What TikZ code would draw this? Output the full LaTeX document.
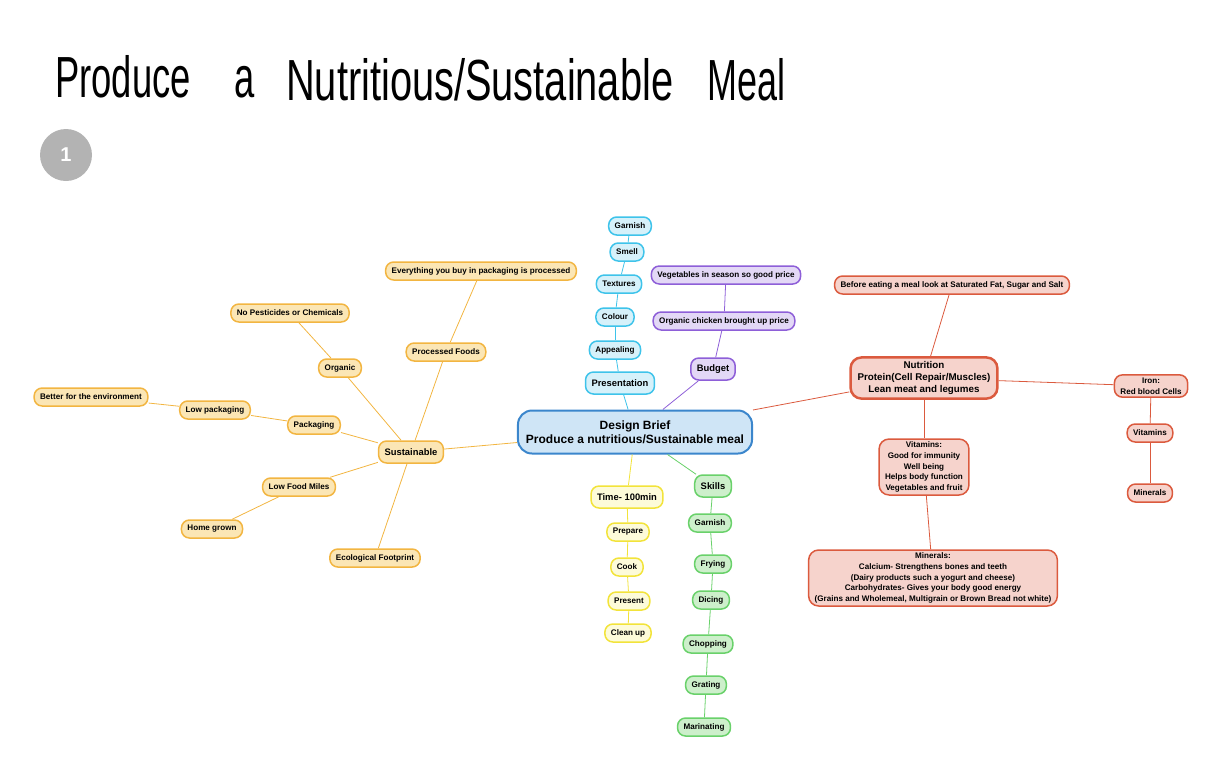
\documentclass[tikz,border=0pt]{standalone}
\usepackage{fontspec}
\setmainfont{Liberation Sans}
\usetikzlibrary{positioning}

\definecolor{orangeline}{HTML}{F2B541}
\definecolor{orangefill}{HTML}{FBE6B5}
\definecolor{cyanline}{HTML}{3EC3EA}
\definecolor{cyanfill}{HTML}{D6F1FA}
\definecolor{purpleline}{HTML}{8E5FD8}
\definecolor{purplefill}{HTML}{E3D8F6}
\definecolor{yellowline}{HTML}{F2E33A}
\definecolor{yellowfill}{HTML}{FDFBD9}
\definecolor{greenline}{HTML}{69D16A}
\definecolor{greenfill}{HTML}{CDEFCB}
\definecolor{redline}{HTML}{DB5A3E}
\definecolor{redfill}{HTML}{F6D3CC}
\definecolor{briefline}{HTML}{3B86CC}
\definecolor{brieffill}{HTML}{CFE5F6}
\definecolor{badge}{HTML}{B3B3B3}

\tikzset{
  idea/.style={rectangle, rounded corners=8pt, draw, line width=1.5pt, align=center,
    font=\bfseries\fontsize{8.1}{10.6}\selectfont, inner xsep=6pt, inner ysep=3pt, minimum height=18pt},
  topic/.style={idea, font=\bfseries\fontsize{9.4}{11}\selectfont, minimum height=22pt},
  orangebox/.style={idea, draw=orangeline, fill=orangefill},
  cyanbox/.style={idea, draw=cyanline, fill=cyanfill},
  purplebox/.style={idea, draw=purpleline, fill=purplefill},
  yellowbox/.style={idea, draw=yellowline, fill=yellowfill},
  greenbox/.style={idea, draw=greenline, fill=greenfill},
  redbox/.style={idea, draw=redline, fill=redfill},
  titletext/.style={anchor=base west, inner sep=0pt, font=\fontsize{58}{66}\selectfont},
}

\begin{document}
\begin{tikzpicture}[x=1pt, y=-1pt]
    \useasboundingbox (0,0) rectangle (1230,766);

    % heading
    \node[titletext] (t1) at (55,97) {\scalebox{0.627}[1]{Produce}};
    \node[titletext] (t2) at (234,97) {\scalebox{0.627}[1]{a}};
    \node[titletext] (t3) at (286,100) {\scalebox{0.686}[1]{Nutritious/Sustainable}};
    \node[titletext] (t4) at (707,100) {\scalebox{0.62}[1]{Meal}};
    \node[circle, fill=badge, minimum size=52pt, inner sep=0pt, text=white,
          font=\bfseries\fontsize{20}{20}\selectfont] (num) at (66,155) {1};

    % centre
    \node[idea, draw=briefline, fill=brieffill, line width=2pt, rounded corners=14pt,
          font=\bfseries\fontsize{12}{14}\selectfont, minimum height=43pt, inner xsep=8pt]
          (brief) at (635,432) {Design Brief\\Produce a nutritious/Sustainable meal};

    % presentation branch
    \node[cyanbox, topic] (pres) at (620,383) {Presentation};
    \node[cyanbox] (appeal) at (615,350) {Appealing};
    \node[cyanbox] (colour) at (615,317) {Colour};
    \node[cyanbox] (texture) at (619,284) {Textures};
    \node[cyanbox] (smell) at (627,252) {Smell};
    \node[cyanbox] (garnishp) at (630,226) {Garnish};
    \draw[cyanline, thick] (brief) -- (pres);
    \draw[cyanline, thick] (pres) -- (appeal);
    \draw[cyanline, thick] (appeal) -- (colour);
    \draw[cyanline, thick] (colour) -- (texture);
    \draw[cyanline, thick] (texture) -- (smell);
    \draw[cyanline, thick] (smell) -- (garnishp);

    % budget branch
    \node[purplebox, topic] (budget) at (713,369) {Budget};
    \node[purplebox] (chicken) at (724,321) {Organic chicken brought up price};
    \node[purplebox] (veg) at (726,275) {Vegetables in season so good price};
    \draw[purpleline, thick] (brief) -- (budget);
    \draw[purpleline, thick] (budget) -- (chicken);
    \draw[purpleline, thick] (chicken) -- (veg);

    % sustainable branch
    \node[orangebox, topic] (sust) at (411,452) {Sustainable};
    \node[orangebox] (processed) at (446,352) {Processed Foods};
    \node[orangebox] (everything) at (481,271) {Everything you buy in packaging is processed};
    \node[orangebox] (organic) at (340,368) {Organic};
    \node[orangebox] (pesticides) at (290,313) {No Pesticides or Chemicals};
    \node[orangebox] (packaging) at (314,425) {Packaging};
    \node[orangebox] (lowpack) at (215,410) {Low packaging};
    \node[orangebox] (better) at (91,397) {Better for the environment};
    \node[orangebox] (miles) at (299,487) {Low Food Miles};
    \node[orangebox] (home) at (212,529) {Home grown};
    \node[orangebox] (eco) at (375,558) {Ecological Footprint};
    \draw[orangeline, thick] (brief) -- (sust);
    \draw[orangeline, thick] (sust) -- (processed);
    \draw[orangeline, thick] (processed) -- (everything);
    \draw[orangeline, thick] (sust) -- (organic);
    \draw[orangeline, thick] (organic) -- (pesticides);
    \draw[orangeline, thick] (sust) -- (packaging);
    \draw[orangeline, thick] (packaging) -- (lowpack);
    \draw[orangeline, thick] (lowpack) -- (better);
    \draw[orangeline, thick] (sust) -- (miles);
    \draw[orangeline, thick] (miles) -- (home);
    \draw[orangeline, thick] (sust) -- (eco);

    % time branch
    \node[yellowbox, topic] (time) at (627,497) {Time- 100min};
    \node[yellowbox] (prepare) at (628,532) {Prepare};
    \node[yellowbox] (cook) at (627,567) {Cook};
    \node[yellowbox] (present) at (629,601) {Present};
    \node[yellowbox] (clean) at (628,633) {Clean up};
    \draw[yellowline, thick] (brief) -- (time);
    \draw[yellowline, thick] (time) -- (prepare);
    \draw[yellowline, thick] (prepare) -- (cook);
    \draw[yellowline, thick] (cook) -- (present);
    \draw[yellowline, thick] (present) -- (clean);

    % skills branch
    \node[greenbox, topic] (skills) at (713,486) {Skills};
    \node[greenbox] (garnishs) at (710,523) {Garnish};
    \node[greenbox] (frying) at (713,564) {Frying};
    \node[greenbox] (dicing) at (711,600) {Dicing};
    \node[greenbox] (chopping) at (708,644) {Chopping};
    \node[greenbox] (grating) at (706,685) {Grating};
    \node[greenbox] (marinating) at (704,727) {Marinating};
    \draw[greenline, thick] (brief) -- (skills);
    \draw[greenline, thick] (skills) -- (garnishs);
    \draw[greenline, thick] (garnishs) -- (frying);
    \draw[greenline, thick] (frying) -- (dicing);
    \draw[greenline, thick] (dicing) -- (chopping);
    \draw[greenline, thick] (chopping) -- (grating);
    \draw[greenline, thick] (grating) -- (marinating);

    % nutrition branch
    \node[redbox, line width=2.5pt, rounded corners=11pt, font=\bfseries\fontsize{9.8}{12}\selectfont,
          inner xsep=7pt, inner ysep=4pt]
          (nutrition) at (924,378) {Nutrition\\Protein(Cell Repair/Muscles)\\Lean meat and legumes};
    \node[redbox] (before) at (952,285) {Before eating a meal look at Saturated Fat, Sugar and Salt};
    \node[redbox] (iron) at (1151,386) {Iron:\\Red blood Cells};
    \node[redbox] (vitsmall) at (1150,433) {Vitamins};
    \node[redbox] (minsmall) at (1150,493) {Minerals};
    \node[redbox, rounded corners=10pt] (vitamins) at (924,467)
          {Vitamins:\\Good for immunity\\Well being\\Helps body function\\Vegetables and fruit};
    \node[redbox, rounded corners=10pt, inner ysep=3pt] (minerals) at (933,578)
          {Minerals:\\Calcium- Strengthens bones and teeth\\(Dairy products such a yogurt and cheese)\\Carbohydrates- Gives your body good energy\\(Grains and Wholemeal, Multigrain or Brown Bread not white)};
    \draw[redline, thick] (brief) -- (nutrition);
    \draw[redline, thick] (nutrition) -- (before);
    \draw[redline, thick] (nutrition) -- (iron);
    \draw[redline, thick] (iron) -- (vitsmall);
    \draw[redline, thick] (vitsmall) -- (minsmall);
    \draw[redline, thick] (nutrition) -- (vitamins);
    \draw[redline, thick] (vitamins) -- (minerals);
\end{tikzpicture}
\end{document}
